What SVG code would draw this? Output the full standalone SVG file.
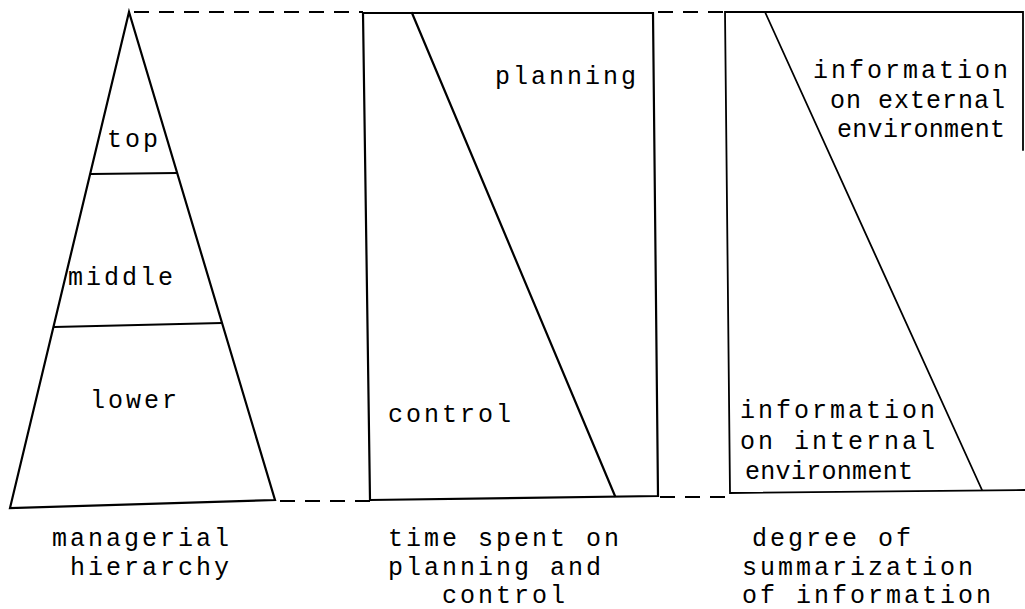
<svg xmlns="http://www.w3.org/2000/svg" width="1025" height="609" viewBox="0 0 1025 609">
<style>
.ln{fill:none;stroke:#000;stroke-width:2.2;stroke-linejoin:miter;stroke-linecap:round}
.th{fill:none;stroke:#000;stroke-width:1.8;stroke-linecap:round}
.dash{fill:none;stroke:#000;stroke-width:2.2;stroke-dasharray:15 10}
text{font-family:"Liberation Mono","Courier New",monospace;font-size:25px;letter-spacing:3px;fill:#000}
text.n1{letter-spacing:1px}
text.n2{letter-spacing:0.3px}
</style>
<rect width="1025" height="609" fill="#fff"/>
<g id="connectors">
<line class="dash" x1="134" y1="12" x2="363" y2="12"/>
<line class="dash" x1="658" y1="12" x2="725" y2="12"/>
<line class="dash" x1="280" y1="501" x2="370" y2="501"/>
<line class="dash" x1="660" y1="497" x2="730" y2="497"/>
</g>
<g id="hierarchy">
<polygon class="ln" points="129,12 10,508 275,500"/>
<line class="ln" x1="91" y1="174" x2="177" y2="173"/>
<line class="ln" x1="54" y1="327" x2="222" y2="323"/>
<text x="107" y="147">top</text>
<text x="68" y="285">middle</text>
<text x="90" y="408">lower</text>
<text x="52" y="546">managerial</text>
<text x="70" y="575">hierarchy</text>
</g>
<g id="time">
<polygon class="ln" points="363,13 653,13 658,496 370,500"/>
<line class="ln" x1="412" y1="13" x2="615" y2="496"/>
<text x="495" y="84">planning</text>
<text x="388" y="422">control</text>
<text x="388" y="546">time spent on</text>
<text x="388" y="575">planning and</text>
<text x="442" y="603">control</text>
</g>
<g id="summarization">
<polyline class="th" points="1023,150 1023,12 725,12 730,493 1025,490"/>
<line class="th" x1="765" y1="12" x2="982" y2="490"/>
<text x="813" y="78">information</text>
<text class="n1" x="830" y="108">on external</text>
<text class="n2" x="837" y="137">environment</text>
<text x="740" y="418">information</text>
<text x="740" y="449">on internal</text>
<text class="n2" x="745" y="479">environment</text>
<text x="752" y="546">degree of</text>
<text x="742" y="575">summarization</text>
<text x="742" y="603">of information</text>
</g>
</svg>
